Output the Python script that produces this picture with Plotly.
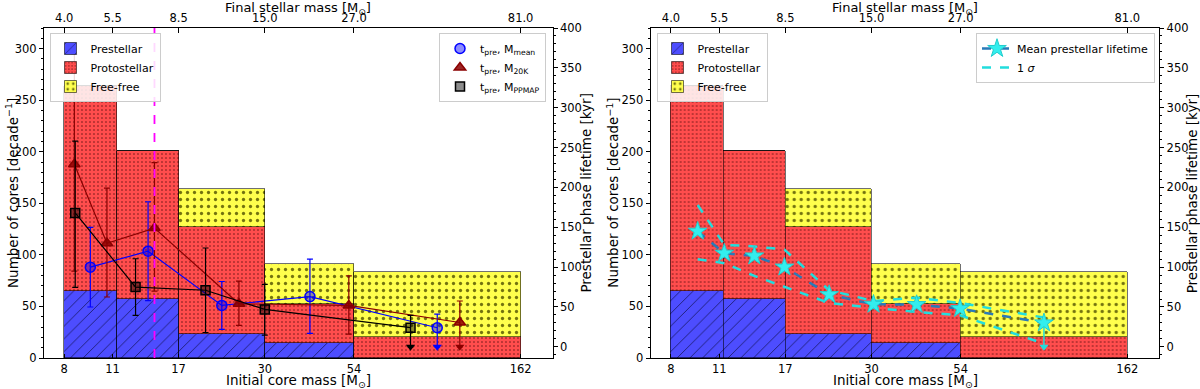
import numpy as np
import plotly.graph_objects as go

# ---- histogram of cores (per decade) ----
bin_edges = [8, 11.3, 17, 30, 54, 162]
prestellar = [65, 57, 23, 15, 0]
protostellar = [199, 144, 104, 37, 20]
freefree = [0, 0, 36.5, 39, 63.5]

core_ticks = [8, 11, 17, 30, 54, 162]
core_ticktext = ["8", "11", "17", "30", "54", "162"]
final_ticktext = ["4.0", "5.5", "8.5", "15.0", "27.0", "81.0"]

# ---- left panel: prestellar lifetimes (kyr) ----
mass_mean = [9.5, 13.9, 22.6, 40.4, 93.5]
t_mean = [100, 120, 52, 63, 24]
t_mean_hi = [150, 182, 82, 110, 41]
t_mean_lo = [50, 58, 22, 17, 0]
mean_uplim = [False, False, False, False, True]

mass_20k = [8.55, 10.6, 14.5, 25.3, 52.2, 108.5]
t_20k = [229, 130, 149, 54, 52, 30.5]
t_20k_hi = [367, 199, 231, 82.5, 89, 57.5]
t_20k_lo = [95, 62.5, 70, 27, 16, 0]
k20_uplim = [False, False, False, False, False, True]

mass_ppmap = [8.6, 12.8, 20.3, 30.0, 78.4]
t_ppmap = [168, 75, 71, 47, 24]
t_ppmap_hi = [258, 110.5, 124, 78.4, 39.6]
t_ppmap_lo = [74.6, 39.6, 18, 14.6, 0]
ppmap_uplim = [False, False, False, False, True]

high_mass_limit = 14.5

# ---- right panel: mean lifetime and 1 sigma ----
mass_star = [9.54, 11.37, 13.86, 16.9, 22.7, 30.4, 40.4, 53.8, 93.5]
t_star = [145, 117.5, 114, 100, 65.5, 53.4, 53, 48, 30]
t_star_hi = [178, 128, 126, 122, 71, 57.5, 61.7, 55, 36.7]
t_star_lo = [110, 105, 89, 75, 55, 49, 43.8, 39.6, 4]
star_uplim = [False] * 8 + [True]

FONT = "DejaVu Sans"
FW, FH = 1200, 389


def fx(p):
    return p / FW


def fy(p):
    return 1 - p / FH


lg = np.log10
edges = lg(np.array(bin_edges))
centers = (edges[:-1] + edges[1:]) / 2
widths = edges[1:] - edges[:-1]

xr = [lg(7), lg(200)]
ydom = [fy(358), fy(28)]
panels = [(44, 552.6), (650.7, 1159.3)]

fig = go.Figure()

bar_styles = [
    ("Prestellar", prestellar, "rgb(77,77,255)", "/", "rgba(20,20,90,0.85)", 9, 0.1),
    ("Protostellar", protostellar, "rgb(255,77,77)", ".", "rgba(50,0,0,0.75)", 4, 0.12),
    ("Free-free", freefree, "rgb(255,255,77)", ".", "rgba(80,80,0,0.8)", 7, 0.17),
]

for xa, ya, leg in [("x", "y", "legend"), ("x3", "y3", "legend3")]:
    for name, vals, col, shp, fg, sz, sol in bar_styles:
        fig.add_trace(go.Bar(
            x=centers, y=vals, width=widths, name=name, xaxis=xa, yaxis=ya, legend=leg,
            marker=dict(color=col, line=dict(color="rgba(0,0,0,0.7)", width=0.8),
                        pattern=dict(shape=shp, fgcolor=fg, bgcolor=col, size=sz,
                                     solidity=sol, fillmode="replace")),
        ))

# empty traces so the top (final mass) axes get drawn
for xa in ["x2", "x4"]:
    fig.add_trace(go.Scatter(x=lg(np.array(core_ticks)), y=[None] * len(core_ticks),
                             xaxis=xa, yaxis="y" if xa == "x2" else "y3",
                             mode="markers", showlegend=False, hoverinfo="skip"))


def add_series(mass, t, hi, lo, uplim, color, fill, symbol, size, name, xa, ya, leg):
    xs = lg(np.array(mass))
    t = np.array(t, float)
    fig.add_trace(go.Scatter(x=xs, y=t, mode="lines", line=dict(color=color, width=1.2),
                             xaxis=xa, yaxis=ya, showlegend=False, hoverinfo="skip"))
    fig.add_trace(go.Scatter(
        x=xs, y=t, mode="markers", name=name, xaxis=xa, yaxis=ya, legend=leg,
        marker=dict(symbol=symbol, size=size, color=fill, line=dict(color=color, width=1.5)),
        error_y=dict(type="data", symmetric=False, array=np.array(hi) - t,
                     arrayminus=t - np.array(lo), color=color, thickness=1.2, width=3),
    ))
    lim = np.array(uplim)
    if lim.any():
        fig.add_trace(go.Scatter(
            x=xs[lim], y=np.array(lo, float)[lim], mode="markers", xaxis=xa, yaxis=ya,
            showlegend=False, marker=dict(symbol="triangle-down", size=8, color=color)))


add_series(mass_mean, t_mean, t_mean_hi, t_mean_lo, mean_uplim, "blue",
           "rgba(0,0,255,0.45)", "circle", 10, "t<sub>pre</sub>, M<sub>mean</sub>", "x", "y2", "legend2")
add_series(mass_20k, t_20k, t_20k_hi, t_20k_lo, k20_uplim, "darkred",
           "rgba(139,0,0,0.85)", "triangle-up", 10, "t<sub>pre</sub>, M<sub>20K</sub>", "x", "y2", "legend2")
add_series(mass_ppmap, t_ppmap, t_ppmap_hi, t_ppmap_lo, ppmap_uplim, "black",
           "rgba(0,0,0,0.45)", "square", 9, "t<sub>pre</sub>, M<sub>PPMAP</sub>", "x", "y2", "legend2")

# right panel
xs_star = lg(np.array(mass_star))
fig.add_trace(go.Scatter(x=xs_star, y=t_star_hi, mode="lines", name="1 <i>σ</i>",
                         line=dict(color="#22dddd", width=2.5, dash="dash"),
                         xaxis="x3", yaxis="y4", legend="legend4", legendrank=2))
fig.add_trace(go.Scatter(x=xs_star, y=t_star_lo, mode="lines", showlegend=False,
                         line=dict(color="#22dddd", width=2.5, dash="dash"),
                         xaxis="x3", yaxis="y4"))
lim = np.array(star_uplim)
ts = np.array(t_star, float)
fig.add_trace(go.Scatter(
    x=xs_star[lim], y=ts[lim], mode="markers", showlegend=False, xaxis="x3", yaxis="y4",
    marker=dict(size=1, color="#22dddd"),
    error_y=dict(type="data", symmetric=False, array=[0] * int(lim.sum()),
                 arrayminus=ts[lim], color="#22dddd", thickness=1.5, width=0)))
fig.add_trace(go.Scatter(
    x=xs_star[lim], y=[0] * int(lim.sum()), mode="markers", showlegend=False,
    xaxis="x3", yaxis="y4", marker=dict(symbol="triangle-down", size=8, color="#22dddd")))
fig.add_trace(go.Scatter(x=xs_star, y=t_star, mode="lines+markers", name="Mean prestellar lifetime",
                         line=dict(color="#2a7ab8", width=2.5, dash="dash"),
                         marker=dict(symbol="star", size=14, color="#33eeee",
                                     line=dict(color="#22cccc", width=1)),
                         xaxis="x3", yaxis="y4", legend="legend4", legendrank=1))

fig.add_shape(type="line", xref="x", yref="y domain", x0=lg(high_mass_limit), x1=lg(high_mass_limit),
              y0=0, y1=1, line=dict(color="magenta", width=1.8, dash="dash"))

tickfont = dict(family=FONT, size=11.5, color="black")
titlefont = dict(family=FONT, size=13.5, color="black")
core_tv = list(lg(np.array(core_ticks)))
sun = "M<sub>⊙</sub>"

layout = dict(
    width=FW, height=FH, margin=dict(l=0, r=0, t=0, b=0),
    plot_bgcolor="white", paper_bgcolor="white", barmode="stack", bargap=0,
    font=dict(family=FONT, size=11, color="black"),
)
annotations = []
for i, (p0, p1) in enumerate(panels):
    xb, xt, yl, yr = (1, 2, 1, 2) if i == 0 else (3, 4, 3, 4)
    xn = lambda k: "xaxis" if k == 1 else f"xaxis{k}"
    yn = lambda k: "yaxis" if k == 1 else f"yaxis{k}"
    xid = "x" if xb == 1 else f"x{xb}"
    yid = "y" if yl == 1 else f"y{yl}"
    dom = [fx(p0), fx(p1)]
    common_x = dict(type="linear", range=xr, tickvals=core_tv, showgrid=False, zeroline=False,
                    showline=True, linecolor="black", linewidth=1, ticks="inside",
                    tickcolor="black", tickfont=tickfont, automargin=False)
    layout[xn(xb)] = dict(common_x, domain=dom, anchor=yid, side="bottom",
                          ticktext=core_ticktext, ticklen=4)
    layout[xn(xt)] = dict(common_x, domain=dom, overlaying=xid, anchor=yid, side="top",
                          ticktext=final_ticktext, ticklen=5)
    common_y = dict(showgrid=False, zeroline=False, showline=True, linecolor="black", linewidth=1,
                    ticks="outside", ticklen=4, tickcolor="black", tickfont=tickfont,
                    automargin=False, dtick=50,
                    minor=dict(dtick=10, ticklen=2, tickcolor="black", ticks="outside"))
    layout[yn(yl)] = dict(common_y, domain=ydom, anchor=xid, range=[0, 320], tick0=0)
    layout[yn(yr)] = dict(common_y, domain=ydom, overlaying=yid, anchor=xid, side="right",
                          range=[-14, 400], tick0=0)

    mid = (p0 + p1) / 2
    titles = [
        (f"Final stellar mass [{sun}]", mid, 8.5, 0, 13),
        (f"Initial core mass [{sun}]", mid, 381, 0, 13.5),
        ("Number of cores [decade<sup>−1</sup>]", p0 - 32 if i == 0 else p0 - 38, 193, -90, 13.5),
        ("Prestellar phase lifetime [kyr]", p1 + 33, 193, -90, 13.5),
    ]
    for txt, px, py, ang, fs in titles:
        annotations.append(dict(text=txt, x=fx(px), y=fy(py), xref="paper", yref="paper",
                                xanchor="center", yanchor="middle", textangle=ang,
                                showarrow=False, font=dict(titlefont, size=fs)))
layout["annotations"] = annotations

legbox = dict(bgcolor="rgba(255,255,255,0.85)", bordercolor="#cccccc", borderwidth=1,
              font=dict(family=FONT, size=11), yanchor="top", y=fy(33),
              tracegroupgap=0, itemwidth=30, traceorder="normal")
layout["legend"] = dict(legbox, x=fx(49.5), xanchor="left")
layout["legend2"] = dict(legbox, x=fx(546), xanchor="right")
layout["legend3"] = dict(legbox, x=fx(656.5), xanchor="left")
layout["legend4"] = dict(legbox, x=fx(1155), xanchor="right")

fig.update_layout(**layout)
# drop the default page margin so the figure sits at the window's top-left corner
fig.write_html("out.html", config={"displayModeBar": False},
               post_script="document.body.style.margin='0px';")
